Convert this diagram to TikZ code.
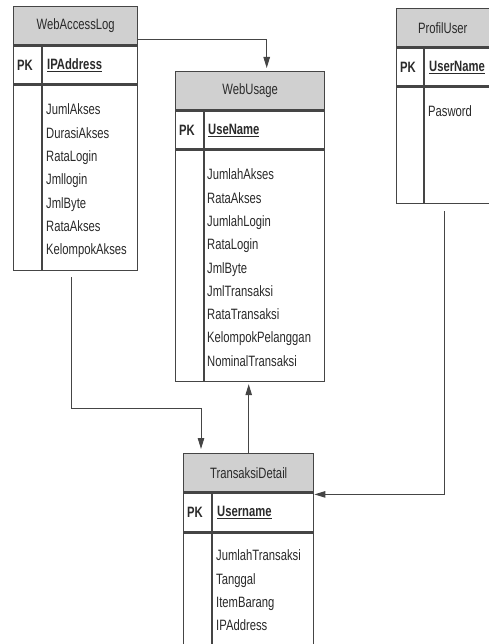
\documentclass[tikz,border=0pt]{standalone}
\usepackage{fontspec}
\setmainfont[FakeStretch=0.75]{Liberation Sans}
\usetikzlibrary{arrows.meta,calc}

\definecolor{linegray}{HTML}{454545}
\definecolor{headgray}{HTML}{D0D0D0}
\definecolor{textgray}{HTML}{2A2A2A}

\tikzset{
  tblhead/.style={draw=linegray, line width=1.4pt, fill=headgray, anchor=north west,
    minimum height=38pt, inner sep=0pt, text=textgray, font=\fontsize{15}{17}\selectfont},
  tblrow/.style={draw=linegray, line width=1.4pt, fill=white, anchor=north west, inner sep=0pt},
  divline/.style={draw=linegray, line width=1.2pt},
  pktext/.style={anchor=west, inner sep=0pt, text=textgray, font=\fontsize{15}{17}\selectfont\bfseries},
  fieldtext/.style={anchor=north west, inner sep=0pt, align=left, text=textgray,
    font=\fontsize{15}{23.3}\selectfont},
  conn/.style={draw=linegray, line width=1pt, -{Triangle[length=11pt,width=6.5pt]}},
}

\begin{document}
\begin{tikzpicture}[x=1pt,y=-1pt]
    \useasboundingbox (0,0) rectangle (489,644);

    % Tabel WebAccessLog
    \node[tblhead, minimum width=124pt] (wal-head) at (13,6) {WebAccessLog};
    \node[tblrow, minimum width=124pt, minimum height=38pt] (wal-pk) at (wal-head.south west) {};
    \node[tblrow, minimum width=124pt, minimum height=185pt] (wal-body) at (wal-pk.south west) {};
    \draw[divline] ($(wal-pk.north west)+(29,0)$) -- ($(wal-body.south west)+(29,0)$);
    \node[pktext] (wal-pktxt) at ($(wal-pk.west)+(4,0)$) {PK};
    \node[pktext] (wal-key) at ($(wal-pk.west)+(34,0)$) {\underline{IPAddress}};
    \node[fieldtext] (wal-fields) at ($(wal-body.north west)+(33,19)$)
        {JumlAkses\\DurasiAkses\\RataLogin\\Jmllogin\\JmlByte\\RataAkses\\KelompokAkses};

    % Tabel WebUsage
    \node[tblhead, minimum width=149pt] (wu-head) at (175,71) {WebUsage};
    \node[tblrow, minimum width=149pt, minimum height=38pt] (wu-pk) at (wu-head.south west) {};
    \node[tblrow, minimum width=149pt, minimum height=231pt] (wu-body) at (wu-pk.south west) {};
    \draw[divline] ($(wu-pk.north west)+(29,0)$) -- ($(wu-body.south west)+(29,0)$);
    \node[pktext] (wu-pktxt) at ($(wu-pk.west)+(4,0)$) {PK};
    \node[pktext] (wu-key) at ($(wu-pk.west)+(33,0)$) {\underline{UseName}};
    \node[fieldtext] (wu-fields) at ($(wu-body.north west)+(32,19)$)
        {JumlahAkses\\RataAkses\\JumlahLogin\\RataLogin\\JmlByte\\JmlTransaksi\\RataTransaksi\\KelompokPelanggan\\NominalTransaksi};

    % Tabel ProfilUser
    \node[tblhead, minimum width=100pt] (pu-head) at (396,8) {\hspace*{-8pt}ProfilUser};
    \node[tblrow, minimum width=100pt, minimum height=38pt] (pu-pk) at (pu-head.south west) {};
    \node[tblrow, minimum width=100pt, minimum height=116pt] (pu-body) at (pu-pk.south west) {};
    \draw[divline] ($(pu-pk.north west)+(28,0)$) -- ($(pu-body.south west)+(28,0)$);
    \node[pktext] (pu-pktxt) at ($(pu-pk.west)+(4,0)$) {PK};
    \node[pktext] (pu-key) at ($(pu-pk.west)+(33,0)$) {\underline{UserName}};
    \node[fieldtext] (pu-fields) at ($(pu-body.north west)+(32,19)$) {Pasword};

    % Tabel TransaksiDetail
    \node[tblhead, minimum width=130pt] (td-head) at (183,453) {TransaksiDetail};
    \node[tblrow, minimum width=130pt, minimum height=39pt] (td-pk) at (td-head.south west) {};
    \node[tblrow, minimum width=130pt, minimum height=130pt] (td-body) at (td-pk.south west) {};
    \draw[divline] ($(td-pk.north west)+(29,0)$) -- ($(td-body.south west)+(29,0)$);
    \node[pktext] (td-pktxt) at ($(td-pk.west)+(4,0)$) {PK};
    \node[pktext] (td-key) at ($(td-pk.west)+(34,0)$) {\underline{Username}};
    \node[fieldtext] (td-fields) at ($(td-body.north west)+(33,17)$)
        {JumlahTransaksi\\Tanggal\\ItemBarang\\IPAddress};

    % Relasi
    \draw[conn, shorten >=3pt] ([yshift=-14pt]wal-head.east) -| ([xshift=16.5pt]wu-head.north);
    \draw[conn, shorten <=6pt, shorten >=4pt] ([xshift=-4pt]wal-body.south) -- ++(0,137)
        -| ([xshift=18pt]td-head.north west);
    \draw[conn, shorten >=2pt] (td-head.north) -- (td-head.north |- wu-body.south);
    \draw[conn, shorten <=7pt] ([xshift=-2pt]pu-body.south) |- ([yshift=-2pt]td-head.south east);
\end{tikzpicture}
\end{document}
